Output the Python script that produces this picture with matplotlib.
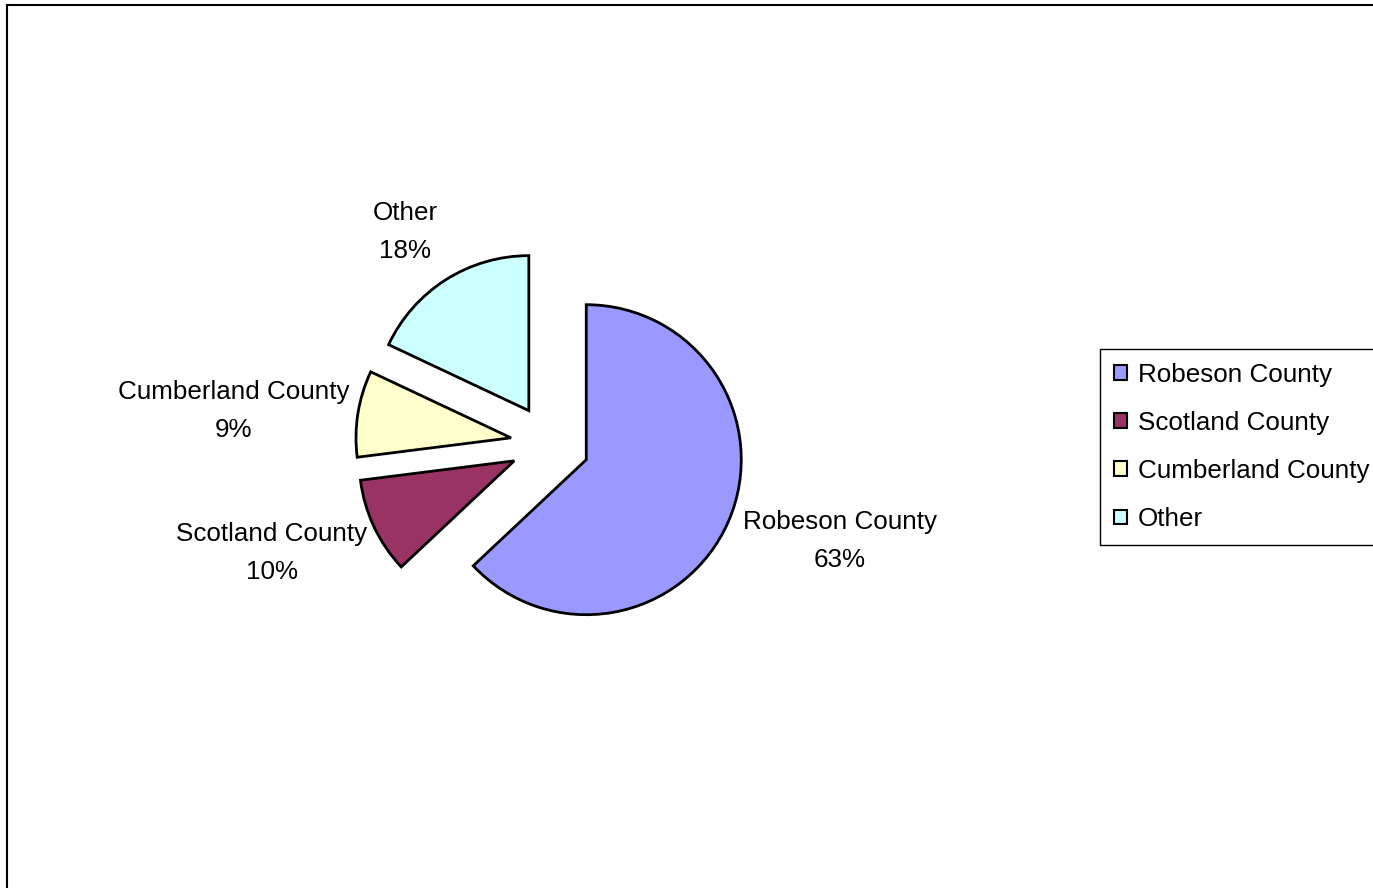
import matplotlib
matplotlib.use("Agg")
import matplotlib.pyplot as plt
from matplotlib.patches import Rectangle

plt.rcParams['font.family'] = ['Liberation Sans', 'DejaVu Sans']

categorias = ['Robeson County', 'Scotland County', 'Cumberland County', 'Other']
porcentajes = [63, 10, 9, 18]
colores = ['#9999FF', '#993366', '#FFFFCC', '#CCFFFF']

W, H = 1373, 888
fig = plt.figure(figsize=(W / 100, H / 100), dpi=100)
ax = fig.add_axes([0, 0, 1, 1])

# centro y radio del pastel (pixeles, y hacia arriba)
centro = (550, H - 444)
radio = 155
separacion = 39.5  # en unidades de datos (pixeles)
cunas, _ = ax.pie(porcentajes, colors=colores, startangle=90, counterclock=False,
                  explode=[separacion] * 4, center=centro, radius=radio,
                  wedgeprops=dict(edgecolor='black', linewidth=2.0))
ax.set_xlim(0, W)
ax.set_ylim(0, H)
ax.set_aspect('equal')
ax.axis('off')

# etiquetas de los datos
pos_etiquetas = [(840, 541), (272, 553), (234, 411), (405, 232)]
for cat, val, (x, y) in zip(categorias, porcentajes, pos_etiquetas):
    ax.text(x, H - y, f"{cat}\n{val}%", ha='center', va='center',
            fontsize=18.7, linespacing=1.7)

# borde del area del grafico
fig.patches.append(Rectangle((7 / W, -0.1), 1.1, (H - 5) / H + 0.1,
                             transform=fig.transFigure, fill=False,
                             edgecolor='black', linewidth=1.5))

leg = fig.legend(cunas, categorias, loc='upper left',
                 bbox_to_anchor=(1100 / W, 1 - 349 / H),
                 fontsize=18.7, frameon=True, fancybox=False, framealpha=1,
                 handlelength=0.5, handleheight=0.5, handletextpad=0.42,
                 labelspacing=0.93, borderpad=0.53, borderaxespad=0)
leg.get_frame().set_edgecolor('black')
leg.get_frame().set_facecolor('white')
leg.get_frame().set_linewidth(1.0)
for h in leg.legend_handles:
    h.set_linewidth(1.5)

fig.savefig('out.png', dpi=100)
